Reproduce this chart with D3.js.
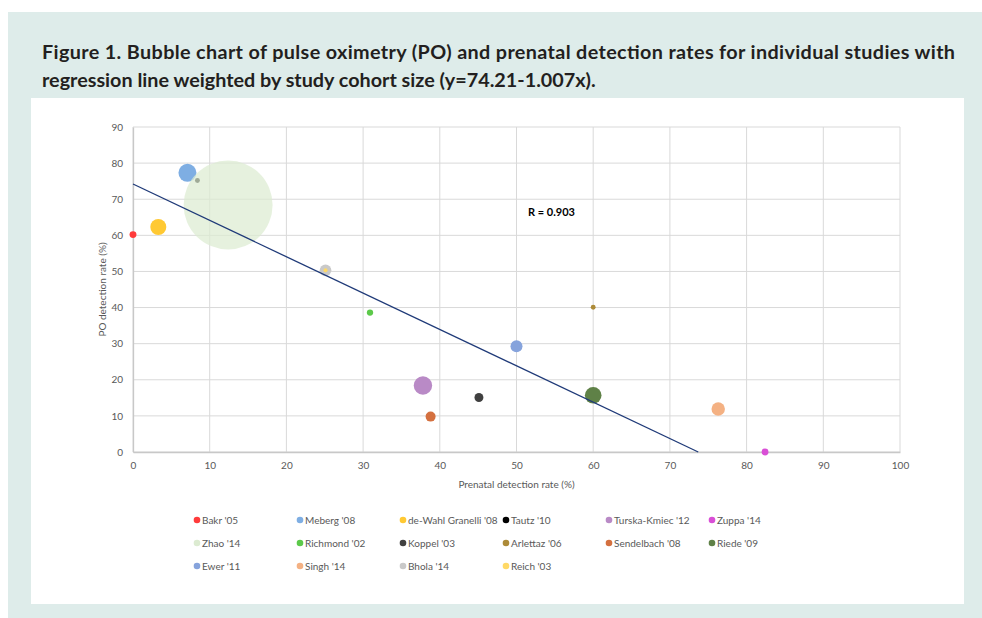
<!DOCTYPE html>
<html>
<head>
<meta charset="utf-8">
<script src="https://cdnjs.cloudflare.com/ajax/libs/d3/7.8.5/d3.min.js"></script>
<style>
  html, body { margin: 0; padding: 0; background: #ffffff; }
  svg { display: block; }
  text { font-family: Lato, "Open Sans", sans-serif; }
</style>
</head>
<body>
<svg id="chart" width="982" height="618"></svg>
<script>
// Studies, in series order
const studies = ["Bakr '05", "Meberg '08", "de-Wahl Granelli '08", "Tautz '10", "Turska-Kmiec '12", "Zuppa '14",
                 "Zhao '14", "Richmond '02", "Koppel '03", "Arlettaz '06", "Sendelbach '08", "Riede '09",
                 "Ewer '11", "Singh '14", "Bhola '14", "Reich '03"];
// Prenatal detection rate (%)
const prenatalRate = [0, 7.1, 3.3, 8.4, 37.8, 82.4, 12.4, 30.9, 45.1, 60.0, 38.8, 60.0, 50.0, 76.3, 25.1, 25.1];
// Pulse oximetry detection rate (%)
const poRate = [60.2, 77.3, 62.3, 75.2, 18.4, 0, 68.4, 38.6, 15.1, 40.1, 9.8, 15.7, 29.3, 11.9, 50.3, 50.3];
// Relative cohort weight (bubble area)
const cohortWeight = [12, 81, 64, 6, 85, 12, 1980, 10, 20, 6, 25, 69, 36, 45, 34, 4];
const colors = ["#ff3b3b", "#7eaee3", "#ffc933", "#000000", "#b98ac6", "#d94fd6",
                "#dcebd1", "#5cc94a", "#404040", "#ad8b38", "#d4703f", "#5f8147",
                "#86a3dc", "#f4b183", "#c9c9c9", "#ffd966"];
const bubbleOpacity = [1, 1, 1, 1, 1, 1, 0.72, 1, 1, 1, 1, 1, 1, 1, 1, 1];

// Weighted regression line y = a + b x and correlation
const intercept = 74.21, slope = -1.007;
const rLabel = "R = 0.903";

const xTicks = [0, 10, 20, 30, 40, 50, 60, 70, 80, 90, 100];
const yTicks = [0, 10, 20, 30, 40, 50, 60, 70, 80, 90];

const titleLines = [
  "Figure 1. Bubble chart of pulse oximetry (PO) and prenatal detection rates for individual studies with",
  "regression line weighted by study cohort size (y=74.21-1.007x)."
];
const xTitle = "Prenatal detection rate (%)";
const yTitle = "PO detection rate (%)";

const svg = d3.select("#chart");

// Panel backgrounds
svg.append("rect").attr("x", 8).attr("y", 12).attr("width", 974).attr("height", 606).attr("fill", "#deecea");
svg.append("rect").attr("x", 31).attr("y", 98).attr("width", 933).attr("height", 506).attr("fill", "#ffffff");

// Title (justified first line)
const t2 = svg.append("text").attr("x", 42).attr("y", 87).attr("fill", "#231f20")
  .attr("font-weight", 700).attr("font-size", 17).text(titleLines[1]);
let fs = 17 * 554 / t2.node().getComputedTextLength();
t2.attr("font-size", fs);
svg.append("text").attr("x", 42).attr("y", 59).attr("fill", "#231f20")
  .attr("font-weight", 700).attr("font-size", fs)
  .attr("textLength", 913).attr("lengthAdjust", "spacing").text(titleLines[0]);

// Scales
const x = d3.scaleLinear().domain([0, 100]).range([133, 900]);
const y = d3.scaleLinear().domain([0, 90]).range([452, 127]);
const r = d3.scaleSqrt().domain([0, d3.max(cohortWeight)]).range([0, 44.5]);

// Gridlines
const grid = svg.append("g");
grid.selectAll("line.h").data(yTicks).join("line")
  .attr("x1", x(0)).attr("x2", x(100)).attr("y1", d => y(d)).attr("y2", d => y(d))
  .attr("stroke", "#d9d9d9").attr("stroke-width", 1);
grid.selectAll("line.v").data(xTicks).join("line")
  .attr("y1", y(0)).attr("y2", y(90)).attr("x1", d => x(d)).attr("x2", d => x(d))
  .attr("stroke", "#d9d9d9").attr("stroke-width", 1);

// Axes
const xAxis = svg.append("g").attr("transform", `translate(0,${y(0)})`)
  .call(d3.axisBottom(x).tickValues(xTicks).tickSize(0).tickPadding(10));
const yAxis = svg.append("g").attr("transform", `translate(${x(0)},0)`)
  .call(d3.axisLeft(y).tickValues(yTicks).tickSize(0).tickPadding(10));
[xAxis, yAxis].forEach(g => {
  g.select(".domain").attr("stroke", "#c8c8c8").attr("stroke-width", 1.3);
  g.selectAll("text").attr("fill", "#595959").attr("font-size", 10)
    .attr("font-family", "Lato, 'Open Sans', sans-serif");
});

svg.append("text").attr("x", (x(0) + x(100)) / 2).attr("y", 488)
  .attr("text-anchor", "middle").attr("font-size", 10).attr("fill", "#595959").text(xTitle);
svg.append("text").attr("transform", `translate(106,${(y(0) + y(90)) / 2}) rotate(-90)`)
  .attr("text-anchor", "middle").attr("font-size", 10).attr("fill", "#595959").text(yTitle);

// Bubbles
const data = studies.map((s, i) => ({
  name: s, px: prenatalRate[i], po: poRate[i], w: cohortWeight[i], c: colors[i], o: bubbleOpacity[i]
}));
svg.append("g").selectAll("circle").data(data).join("circle")
  .attr("cx", d => x(d.px)).attr("cy", d => y(d.po)).attr("r", d => r(d.w))
  .attr("fill", d => d.c).attr("fill-opacity", d => d.o);

// Regression line
const xEnd = -intercept / slope;
svg.append("line")
  .attr("x1", x(0)).attr("y1", y(intercept))
  .attr("x2", x(xEnd)).attr("y2", y(intercept + slope * xEnd))
  .attr("stroke", "#1f3a78").attr("stroke-width", 1.3);

svg.append("text").attr("x", x(51.5)).attr("y", y(65.3))
  .attr("font-size", 11).attr("font-weight", 700).attr("fill", "#000").text(rLabel);

// Legend
const legendX = [197, 300, 403, 506, 609, 712];
const legendY = [520, 543, 566];
const lg = svg.append("g").selectAll("g").data(data).join("g")
  .attr("transform", (d, i) => `translate(${legendX[i % 6]},${legendY[Math.floor(i / 6)]})`);
lg.append("circle").attr("r", 3.3).attr("fill", d => d.c);
lg.append("text").attr("x", 5).attr("y", 3.5).attr("font-size", 10).attr("fill", "#595959").text(d => d.name);
</script>
</body>
</html>
